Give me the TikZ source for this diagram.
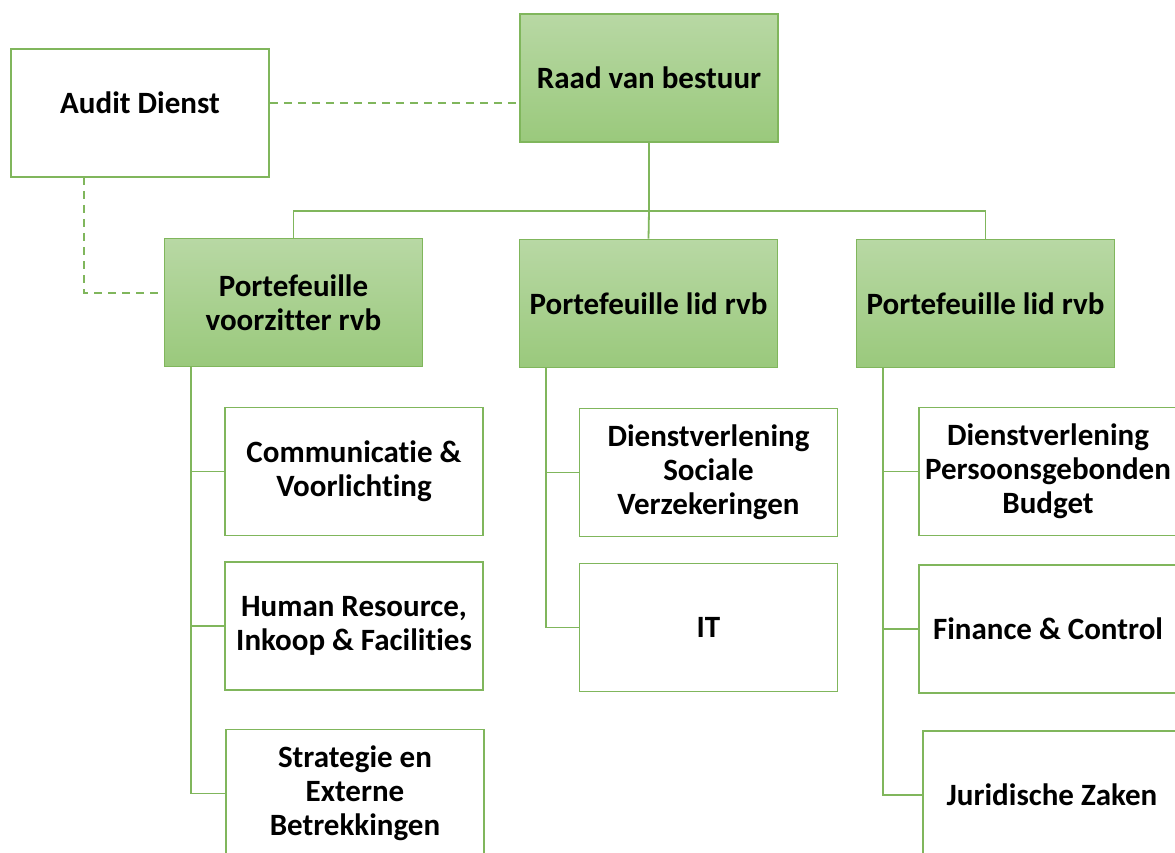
\documentclass[tikz,border=0pt]{standalone}
\usepackage{fontspec}
\setmainfont{Carlito}[Ligatures=NoCommon]
\definecolor{gline}{RGB}{128,182,92}
\definecolor{gtop}{RGB}{184,216,164}
\definecolor{gbot}{RGB}{154,201,124}
\begin{document}
\begin{tikzpicture}[x=1pt,y=-1pt,
  every node/.style={font=\fontsize{31}{34}\selectfont\bfseries, align=center, inner sep=0pt},
  box/.style={draw=gline, line width=1.8pt, fill=white, minimum width=258pt, minimum height=128pt},
  gbox/.style={box, top color=gtop, bottom color=gbot},
  conn/.style={draw=gline, line width=1.8pt},
  dconn/.style={conn, dash pattern=on 8pt off 6pt}]
\useasboundingbox (0,0) rectangle (1175,853);
\clip (0,0) rectangle (1175,853);
% top level
\node[gbox] (raad) at (649,78) {Raad van bestuur};
\node[box] (audit) at (140,113) {};
\node (audittxt) at (140,103) {Audit Dienst};
% portfolios
\node[gbox] (pv) at (293.5,302.5) {Portefeuille\\voorzitter rvb};
\node[gbox] (pl1) at (648.5,303.5) {Portefeuille lid rvb};
\node[gbox] (pl2) at (985.5,303.5) {Portefeuille lid rvb};
% departments
\node[box] (comm) at (354,471.5) {Communicatie \&\\Voorlichting};
\node[box] (hr) at (354,626) {Human Resource,\\Inkoop \& Facilities};
\node[box] (strat) at (355,793.5) {Strategie en\\Externe\\Betrekkingen};
\node[box] (dsv) at (708.5,472.5) {Dienstverlening\\Sociale\\Verzekeringen};
\node[box] (it) at (708.5,627.5) {IT};
\node[box] (dpgb) at (1048,471.5) {Dienstverlening\\Persoonsgebonden\\Budget};
\node[box] (fin) at (1048,629) {Finance \& Control};
\node[box] (jur) at (1052,795) {Juridische Zaken};
% coordinates
\coordinate (hbar) at (649,211);
% connectors
\draw[conn] (raad.south) -- (hbar);
\draw[conn] (pv.north) |- (hbar) -| (pl2.north);
\draw[conn] (hbar) -- (pl1.north);
\coordinate (tv) at (191,367);
\coordinate (t1) at (546,368);
\coordinate (t2) at (883,368);
\draw[conn] (tv) |- (strat.west);
\draw[conn] (tv |- comm.west) -- (comm.west);
\draw[conn] (tv |- hr.west) -- (hr.west);
\draw[conn] (t1) |- (it.west);
\draw[conn] (t1 |- dsv.west) -- (dsv.west);
\draw[conn] (t2) |- (jur.west);
\draw[conn] (t2 |- dpgb.west) -- (dpgb.west);
\draw[conn] (t2 |- fin.west) -- (fin.west);
% dashed
\draw[dconn] (audit.east |- audittxt) -- (raad.west |- audittxt);
\draw[dconn] (84,177) |- (pv.west |- 0,293);
\end{tikzpicture}
\end{document}
